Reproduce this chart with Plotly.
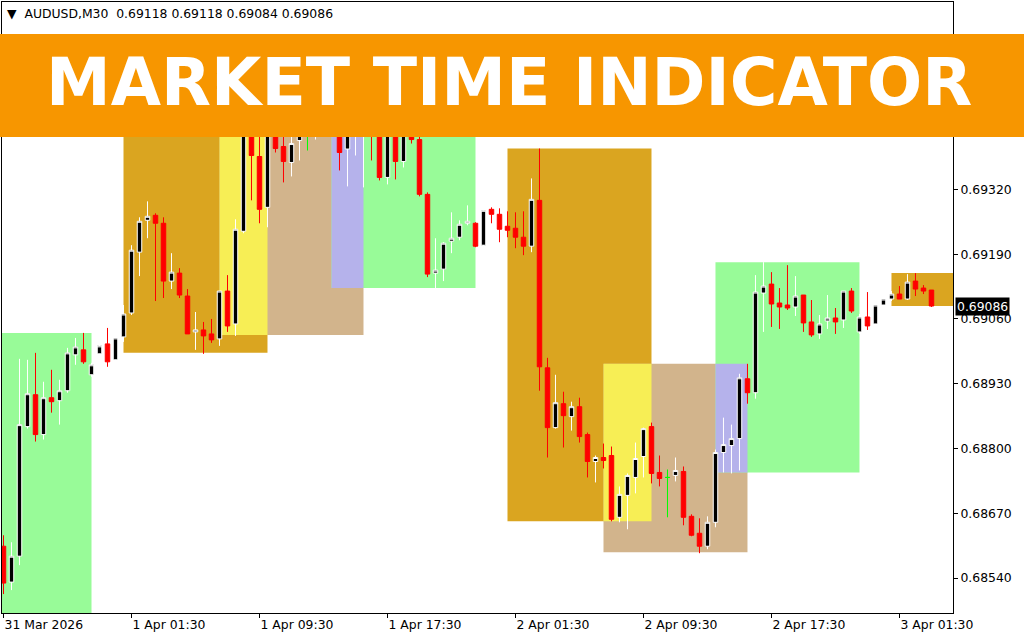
import pandas as pd
import plotly.graph_objects as go

# ---------------- data ----------------
first_bar = "2026-03-31 17:30"
bar_minutes = 30

opens = [0.68604,0.68532,0.68584,0.68844,0.68908,0.68828,0.68902,0.68896,0.68916,0.68988,
         0.68998,0.68948,0.68990,0.69010,0.68978,0.69024,0.69072,0.69194,0.69258,0.69268,
         0.69252,0.69136,0.69152,0.69106,0.69034,0.69038,0.69030,0.69020,0.69116,0.69050,
         0.69236,0.69450,0.69386,0.69284,0.69480,0.69406,0.69374,0.69418,0.69450,0.69440,
         0.69490,0.69460,0.69480,0.69401,0.69440,0.69430,0.69480,0.69440,0.69344,0.69430,
         0.69376,0.69432,0.69420,0.69310,0.69152,0.69160,0.69216,0.69224,0.69252,0.69252,
         0.69208,0.69280,0.69270,0.69246,0.69242,0.69224,0.69206,0.69298,0.68962,0.68842,
         0.68890,0.68864,0.68884,0.68828,0.68774,0.68782,0.68786,0.68662,0.68706,0.68742,
         0.68784,0.68844,0.68752,0.68742,0.68746,0.68754,0.68664,0.68630,0.68604,0.68652,
         0.68792,0.68806,0.68820,0.68940,0.68912,0.69112,0.69130,0.69092,0.69088,0.69084,
         0.69108,0.69054,0.69030,0.69056,0.69062,0.69058,0.69116,0.69034,0.69064,0.69050,
         0.69088,0.69100,0.69110,0.69100,0.69136,0.69122,0.69118]
highs = [0.68626,0.68612,0.68980,0.68978,0.68992,0.68934,0.68958,0.68938,0.69002,0.69022,
         0.69032,0.68972,0.69012,0.69042,0.69028,0.69088,0.69208,0.69264,0.69296,0.69272,
         0.69264,0.69192,0.69162,0.69120,0.69074,0.69054,0.69060,0.69116,0.69148,0.69260,
         0.69452,0.69470,0.69440,0.69490,0.69500,0.69440,0.69440,0.69460,0.69480,0.69500,
         0.69510,0.69520,0.69500,0.69470,0.69500,0.69490,0.69500,0.69460,0.69450,0.69450,
         0.69440,0.69440,0.69430,0.69314,0.69222,0.69214,0.69274,0.69258,0.69288,0.69254,
         0.69282,0.69284,0.69282,0.69276,0.69274,0.69276,0.69342,0.69402,0.68982,0.68948,
         0.68914,0.68894,0.68902,0.68832,0.68786,0.68810,0.68804,0.68724,0.68750,0.68812,
         0.68842,0.68852,0.68786,0.68758,0.68782,0.68764,0.68668,0.68660,0.68664,0.68798,
         0.68862,0.68848,0.68950,0.68970,0.69148,0.69174,0.69154,0.69122,0.69168,0.69146,
         0.69108,0.69098,0.69068,0.69108,0.69082,0.69116,0.69122,0.69070,0.69114,0.69092,
         0.69104,0.69116,0.69126,0.69150,0.69152,0.69128,0.69118]
lows = [0.68508,0.68516,0.68566,0.68840,0.68814,0.68818,0.68872,0.68848,0.68912,0.68968,
        0.68970,0.68944,0.68986,0.68964,0.68972,0.69014,0.69068,0.69146,0.69222,0.69096,
        0.69102,0.69120,0.69102,0.69030,0.68998,0.68990,0.69012,0.69006,0.69034,0.69026,
        0.69232,0.69298,0.69252,0.69244,0.69394,0.69334,0.69346,0.69378,0.69398,0.69420,
        0.69440,0.69450,0.69358,0.69326,0.69388,0.69324,0.69378,0.69338,0.69330,0.69340,
        0.69364,0.69412,0.69306,0.69144,0.69122,0.69136,0.69192,0.69218,0.69248,0.69204,
        0.69204,0.69252,0.69214,0.69224,0.69202,0.69188,0.69194,0.68916,0.68782,0.68840,
        0.68802,0.68836,0.68812,0.68742,0.68732,0.68760,0.68654,0.68652,0.68638,0.68710,
        0.68742,0.68730,0.68724,0.68662,0.68734,0.68646,0.68624,0.68590,0.68598,0.68642,
        0.68752,0.68750,0.68756,0.68890,0.68900,0.69034,0.69044,0.69040,0.69078,0.69066,
        0.69034,0.69024,0.69020,0.69040,0.69030,0.69042,0.69072,0.69030,0.69038,0.69046,
        0.69084,0.69096,0.69100,0.69098,0.69106,0.69110,0.69084]
closes = [0.68530,0.68584,0.68848,0.68910,0.68828,0.68902,0.68894,0.68916,0.68992,0.69004,
          0.68974,0.68968,0.69006,0.68974,0.69022,0.69070,0.69198,0.69256,0.69266,0.69252,
          0.69136,0.69154,0.69108,0.69030,0.69038,0.69026,0.69018,0.69116,0.69046,0.69240,
          0.69440,0.69388,0.69280,0.69470,0.69402,0.69376,0.69412,0.69440,0.69450,0.69480,
          0.69460,0.69500,0.69394,0.69450,0.69480,0.69470,0.69440,0.69344,0.69430,0.69376,
          0.69430,0.69420,0.69310,0.69150,0.69158,0.69212,0.69222,0.69250,0.69256,0.69206,
          0.69278,0.69270,0.69240,0.69238,0.69224,0.69206,0.69300,0.68964,0.68842,0.68892,
          0.68866,0.68884,0.68824,0.68774,0.68782,0.68776,0.68658,0.68708,0.68746,0.68780,
          0.68840,0.68750,0.68740,0.68742,0.68756,0.68662,0.68626,0.68604,0.68652,0.68792,
          0.68808,0.68820,0.68942,0.68912,0.69114,0.69126,0.69090,0.69084,0.69082,0.69106,
          0.69052,0.69028,0.69050,0.69062,0.69054,0.69116,0.69076,0.69064,0.69046,0.69088,
          0.69100,0.69110,0.69100,0.69134,0.69120,0.69116,0.69086]

# trading sessions: name, start, end, high, low
session_names = ["New York", "Tokyo", "London", "New York", "Tokyo", "London", "New York", "Tokyo"]
session_start = ["2026-03-31 14:00", "2026-04-01 01:00", "2026-04-01 07:00", "2026-04-01 14:00",
                 "2026-04-02 01:00", "2026-04-02 07:00", "2026-04-02 14:00", "2026-04-03 01:00"]
session_end = ["2026-03-31 23:00", "2026-04-01 10:00", "2026-04-01 16:00", "2026-04-01 23:00",
               "2026-04-02 10:00", "2026-04-02 16:00", "2026-04-02 23:00", "2026-04-03 10:00"]
session_high = [0.69032, 0.69490, 0.69520, 0.69500, 0.69402, 0.68970, 0.69174, 0.69152]
session_low = [0.68420, 0.68992, 0.69028, 0.69122, 0.68654, 0.68592, 0.68752, 0.69086]

session_colors = {"Tokyo": "#DAA520", "London": "#D2B48C", "New York": "#98FB98"}
overlap_colors = {("Tokyo", "London"): "#F7EE55", ("London", "New York"): "#B5B2EB"}

x_tick_times = ["2026-03-31 17:30", "2026-04-01 01:30", "2026-04-01 09:30", "2026-04-01 17:30",
                "2026-04-02 01:30", "2026-04-02 09:30", "2026-04-02 17:30", "2026-04-03 01:30"]
x_tick_text = ["31 Mar 2026", "1 Apr 01:30", "1 Apr 09:30", "1 Apr 17:30",
               "2 Apr 01:30", "2 Apr 09:30", "2 Apr 17:30", "3 Apr 01:30"]
y_tick_vals = [0.68540, 0.68670, 0.68800, 0.68930, 0.69060, 0.69190, 0.69320]

symbol = "AUDUSD,M30"
last_price = closes[-1]
title_text = "MARKET TIME INDICATOR"

# ---------------- figure ----------------
times = pd.date_range(first_bar, periods=len(opens), freq=f"{bar_minutes}min")
step = pd.Timedelta(minutes=bar_minutes)

is_doji = [o == c for o, c in zip(opens, closes)]
def pick(vals, want):
    return [v if d == want else None for v, d in zip(vals, is_doji)]

fig = go.Figure()
fig.add_trace(go.Candlestick(
    x=times, open=pick(opens, False), high=pick(highs, False),
    low=pick(lows, False), close=pick(closes, False),
    increasing=dict(fillcolor="#000000", line=dict(color="#FFFFFF", width=1)),
    decreasing=dict(fillcolor="#FF0000", line=dict(color="#FF0000", width=1)),
    whiskerwidth=0, showlegend=False, hoverinfo="skip"))
fig.add_trace(go.Candlestick(
    x=times, open=pick(opens, True), high=pick(highs, True),
    low=pick(lows, True), close=pick(closes, True),
    increasing=dict(fillcolor="#00FF00", line=dict(color="#00FF00", width=1)),
    decreasing=dict(fillcolor="#00FF00", line=dict(color="#00FF00", width=1)),
    whiskerwidth=0, showlegend=False, hoverinfo="skip"))

# session boxes
for name, s, e, h, l in zip(session_names, session_start, session_end, session_high, session_low):
    fig.add_shape(type="rect", xref="x", yref="y", x0=s, x1=e, y0=l, y1=h,
                  fillcolor=session_colors[name], line=dict(width=0), layer="below")
# overlaps
n = len(session_names)
for i in range(n):
    for j in range(n):
        key = (session_names[i], session_names[j])
        if key not in overlap_colors:
            continue
        s = max(pd.Timestamp(session_start[i]), pd.Timestamp(session_start[j]))
        e = min(pd.Timestamp(session_end[i]), pd.Timestamp(session_end[j]))
        if s >= e:
            continue
        lo = max(session_low[i], session_low[j])
        hi = min(session_high[i], session_high[j])
        if lo >= hi:
            continue
        fig.add_shape(type="rect", xref="x", yref="y", x0=s, x1=e, y0=lo, y1=hi,
                      fillcolor=overlap_colors[key], line=dict(width=0), layer="below")

W, H = 1024, 640
ml, mr, mt, mb = 2, 71, 2, 27
pw, ph = W - ml - mr, H - mt - mb

def px_x(x):
    return (x - ml) / pw

def px_y(y):
    return (H - mb - y) / ph

# banner
fig.add_shape(type="rect", xref="paper", yref="paper",
              x0=px_x(0), x1=px_x(W), y0=px_y(137), y1=px_y(34),
              fillcolor="#F79600", line=dict(width=0), layer="above")
fig.add_annotation(text=title_text, xref="paper", yref="paper", x=px_x(508.5), y=px_y(83),
                   xanchor="center", yanchor="middle", showarrow=False,
                   font=dict(family="DejaVu Sans", size=65, color="#FFFFFF", weight="bold"))

# header
fig.add_annotation(text="\u25BC\u00a0\u00a0" + symbol + "\u00a0\u00a0" + " ".join(
                       f"{v:.5f}" for v in [opens[-1], highs[-1], lows[-1], closes[-1]]),
                   xref="paper", yref="paper", x=px_x(5), y=px_y(14),
                   xanchor="left", yanchor="middle", showarrow=False,
                   font=dict(family="DejaVu Sans", size=12.4, color="#000000"))

# last price label
fig.add_annotation(text=f"{last_price:.5f}", xref="paper", yref="y", x=1, y=last_price,
                   xanchor="left", yanchor="middle", xshift=2, showarrow=False,
                   bgcolor="#000000", borderpad=1,
                   font=dict(family="DejaVu Sans", size=12.4, color="#FFFFFF"))

x0 = times[0] - step * 0.1875
x1 = times[0] + step * 118.69

fig.update_layout(
    width=W, height=H,
    margin=dict(l=ml, r=mr, t=mt, b=mb, pad=0),
    paper_bgcolor="#FFFFFF", plot_bgcolor="#FFFFFF",
    boxgap=0.3, boxgroupgap=0.2,
    showlegend=False,
    font=dict(family="DejaVu Sans", size=12.4, color="#000000"),
    xaxis=dict(
        type="date", range=[x0, x1], rangeslider=dict(visible=False),
        showgrid=False, zeroline=False,
        showline=True, linecolor="#000000", linewidth=1, mirror=True,
        ticks="outside", ticklen=4, tickcolor="#000000", tickwidth=1,
        tickvals=pd.to_datetime(x_tick_times), ticktext=x_tick_text,
        ticklabelposition="outside right",
        tickfont=dict(family="DejaVu Sans", size=12.4, color="#000000"),
    ),
    yaxis=dict(
        side="right", range=[0.68470, 0.69696],
        showgrid=False, zeroline=False,
        showline=True, linecolor="#000000", linewidth=1, mirror=True,
        ticks="outside", ticklen=4, tickcolor="#000000", tickwidth=1,
        tickvals=y_tick_vals, tickformat=".5f",
        tickfont=dict(family="DejaVu Sans", size=12.4, color="#000000"),
    ),
)

fig.write_html("out.html", config={"displayModeBar": False},
               post_script="document.body.style.margin='0';document.body.style.overflow='hidden';")
